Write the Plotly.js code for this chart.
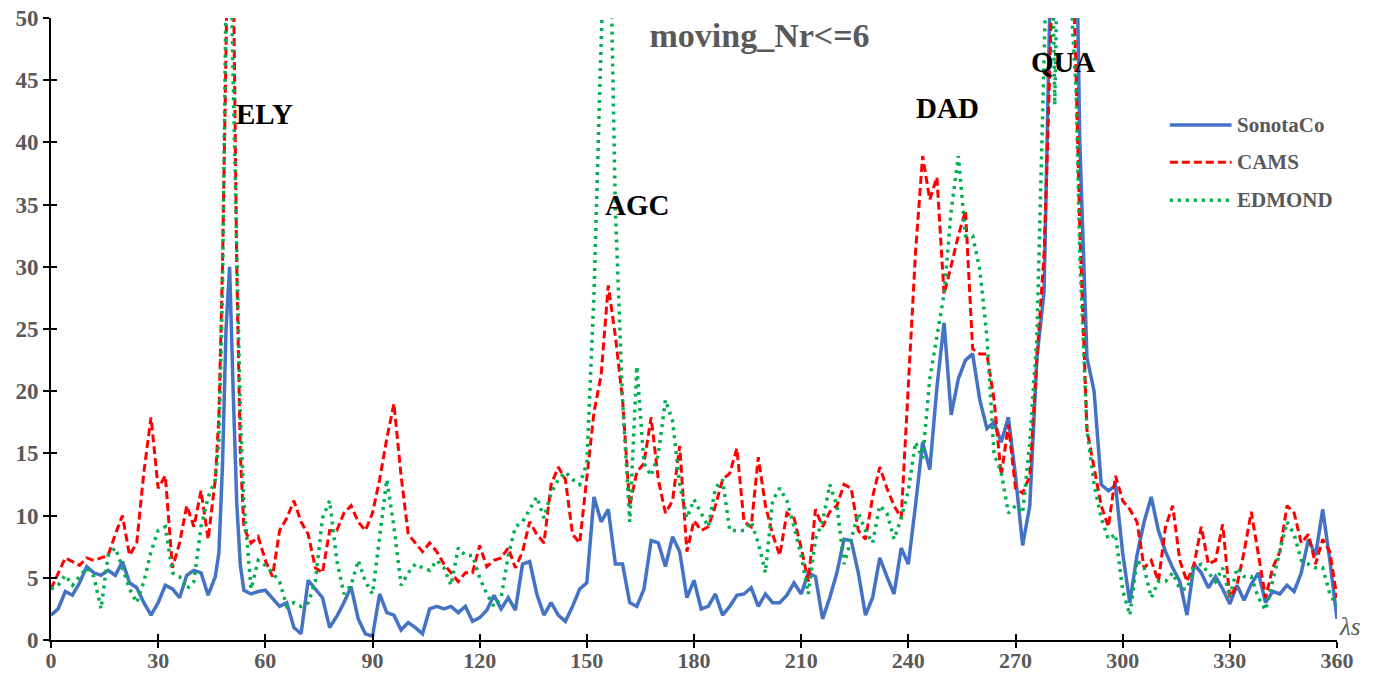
<!DOCTYPE html>
<html>
<head>
<meta charset="utf-8">
<script src="https://cdn.plot.ly/plotly-3.0.1.min.js"></script>
<style>html,body{margin:0;padding:0;background:#fff;}#chart{width:1375px;height:676px;}</style>
</head>
<body>
<div id="chart"></div>
<script>
// Solar longitude (deg)
const lambda = [0,2,4,6,8,10,12,14,16,18,20,22,24,26,28,30,32,34,36,38,40,42,44,46,
  47,48,49,50,51,52,53,54,
  56,58,60,62,64,66,68,70,72,74,76,78,80,82,84,86,88,90,92,94,96,98,100,102,104,106,108,110,112,114,
  116,118,120,122,124,126,128,130,132,134,136,138,140,142,144,146,148,150,152,154,156,158,160,162,164,166,168,170,172,174,
  176,178,180,182,184,186,188,190,192,194,196,198,200,202,204,206,208,210,212,214,216,218,220,222,224,226,228,230,232,234,
  236,238,240,242,244,246,248,250,252,254,256,258,260,262,264,266,268,270,272,274,276,278,
  279,280,281,282,284,286,287,
  288,290,292,294,296,298,300,302,304,306,308,310,312,314,316,318,320,322,324,326,328,330,332,334,336,338,340,342,344,346,348,350,352,354,356,358,360];

const sonotaco = [2.0,2.5,3.9,3.6,4.6,5.9,5.4,5.2,5.6,5.2,6.3,4.6,4.2,3.0,2.0,3.0,4.4,4.1,3.4,5.2,5.6,5.4,3.6,5.1,
  7,14,25,30,20,11,6,4,
  3.7,3.9,4.0,3.4,2.7,3.0,1.0,0.5,4.8,4.1,
  3.4,1.0,1.9,3.0,4.3,1.7,0.5,0.3,3.7,2.2,
  2.0,0.8,1.4,1.0,0.5,2.5,2.7,2.5,2.7,2.2,
  2.7,1.5,1.8,2.4,3.6,2.5,3.4,2.4,6.1,6.3,
  3.7,2.0,3.0,2.0,1.5,2.7,4.1,4.6,11.5,9.5,
  10.5,6.1,6.1,3.0,2.7,4.1,8.0,7.8,5.9,8.3,
  7.1,3.4,4.8,2.5,2.7,3.7,2.0,2.7,3.6,3.7,
  4.2,2.7,3.7,3.0,3.0,3.6,4.6,3.7,5.4,5.1,
  1.7,3.4,5.4,8.1,8.0,5.4,2.0,3.4,6.6,5.1,
  3.7,7.4,6.1,10.8,15.9,13.7,20.3,25.5,18.1,21.0,
  22.5,23.0,19.3,17.0,17.5,15.9,17.9,13.2,7.6,10.8,
  22.7,28,
  45,60,75,85,90,75,58,
  40,22.7,20,12.5,12.0,12.4,7.0,3.0,6.8,9.5,
  11.5,8.8,7.1,5.8,4.7,2.0,6.1,5.4,4.2,5.1,
  4.1,2.9,4.4,3.2,4.5,5.4,3.0,3.9,3.7,4.4,
  3.9,5.4,8.1,6.8,10.5,6.4,1.7];

const cams = [4.1,5.4,6.6,6.3,6.0,6.6,6.4,6.6,6.8,8.5,10.0,6.8,7.8,13.5,17.9,12.2,13.2,5.8,7.8,10.8,9.1,12.0,8.1,12.9,
  18,30,55,65,55,30,15,9,
  7.8,8.3,6.4,5.1,8.8,9.8,11.2,9.5,8.5,5.8,
  5.4,8.8,8.8,10.2,10.8,9.5,8.8,10.2,12.9,16.2,
  19.0,13.2,8.5,7.8,7.1,7.8,7.1,6.1,5.4,4.7,
  5.4,5.4,7.6,5.9,6.4,6.6,7.4,5.8,7.1,9.5,
  8.5,7.8,12.5,13.9,12.9,8.5,7.8,12.9,18.3,21.3,
  28.5,24.4,19.3,10.8,13.5,14.2,17.9,12.9,10.2,11.2,
  15.6,7.1,9.6,8.8,9.1,10.8,12.9,13.4,15.4,9.5,
  9.1,14.7,10.8,8.5,6.8,10.2,9.8,7.4,4.7,10.5,
  9.1,10.3,10.8,12.5,12.2,8.8,8.1,11.5,13.9,12.2,
  10.8,9.8,20.0,31.1,38.9,35.4,37.2,27.8,30.1,32.5,
  34.5,23.4,23.0,23.0,19.3,13.2,17.3,12.2,11.8,13.2,
  22.7,31,
  40,49,60,70,70,55,45,
  33,16.9,13.9,10.8,9.1,13.2,11.2,10.5,9.5,5.8,
  6.4,4.7,9.1,10.8,6.4,4.7,6.1,9.1,6.1,6.4,
  9.3,3.4,4.4,7.1,10.3,6.8,3.4,5.8,7.1,10.8,
  10.2,7.8,8.5,6.1,8.1,7.1,3.4];

const edmond = [4.1,4.4,5.2,4.4,5.1,5.8,5.1,2.5,6.8,7.4,5.8,4.1,3.0,4.7,7.1,8.8,9.1,5.4,5.1,4.1,4.7,9.1,11.5,12.9,
  16,28,52,60,45,30,18,11,
  4.1,6.4,6.0,5.4,4.7,2.7,3.0,2.7,3.0,4.7,
  9.8,11.2,6.4,3.7,4.4,6.4,4.7,3.7,8.1,12.9,
  9.1,4.4,5.4,6.1,5.8,5.6,6.4,5.8,4.4,7.4,
  6.8,6.8,5.0,3.7,2.7,3.4,6.8,9.1,9.5,10.5,
  11.5,9.8,11.8,12.9,13.5,12.9,12.5,14.2,27.8,48,
  65,34.5,19.3,9.5,22,14.2,13.2,14.9,19.3,17.6,
  12.5,9.8,11.3,10.2,9.1,12.2,12.9,8.8,8.8,8.8,
  9.5,7.8,5.4,11.2,12.2,11.2,9.1,6.8,3.7,8.1,
  9.5,12.5,10.8,6.1,8.1,10.2,8.8,7.8,10.8,10.2,
  8.1,9.8,12.0,15.9,14.6,21.0,24.4,27.8,34.5,38.9,
  32.5,32.5,29.8,24.4,14.9,13.5,10.2,10.8,10.2,15.9,
  24.4,47,
  58,62,43,60,70,49,44,
  31,16.9,12.5,9.8,8.1,8.5,4.0,2.0,6.4,5.8,
  3.4,4.7,4.7,5.4,4.1,4.1,5.8,6.1,5.4,4.7,
  5.8,3.4,5.8,5.1,5.1,3.4,2.4,4.7,7.1,9.5,
  8.5,6.4,6.1,5.8,5.8,3.7,2.7];

const seriesNames = ['SonotaCo','CAMS','EDMOND'];
const xTicks = [0,30,60,90,120,150,180,210,240,270,300,330,360];
const yTicks = [0,5,10,15,20,25,30,35,40,45,50];
const showerLabels = ['ELY','AGC','DAD','QUA'];
const showerX = [51.3,154.6,241.7,273.9];
const showerY = [42.3,35.0,42.8,46.5];

const colors = ['#4472C4','#FF0000','#00B050'];
const dashes = ['solid','8px,4px','3px,5px'];
const widths = [3.5,3,3.5];
const seriesData = [sonotaco, cams, edmond];

const serif = 'Liberation Serif';
const gray = '#595959';

const traces = seriesData.map((ys,i)=>({
  type:'scatter', mode:'lines', x:lambda, y:ys, name:seriesNames[i],
  line:{color:colors[i], width:widths[i], dash:dashes[i]}, showlegend:false
}));
traces.push({type:'scatter', mode:'lines', x:[], y:[], xaxis:'x2', yaxis:'y2', showlegend:false, hoverinfo:'skip'});

const axBase = {showgrid:false, zeroline:false, tickcolor:'#000', tickwidth:2, ticklen:6};
const tickFont = {family:serif, size:23, color:gray};

const annotations = showerLabels.map((t,i)=>({
  x:showerX[i], y:showerY[i], xref:'x', yref:'y', text:'<b>'+t+'</b>', showarrow:false,
  xanchor:'left', yanchor:'middle', font:{family:serif, size:29, color:'#000'}
}));
annotations.push({x:1.0, y:0.0225, xref:'paper', yref:'paper', text:'<i>λs</i>', showarrow:false,
  xanchor:'left', yanchor:'middle', font:{family:serif, size:25, color:gray}});

// Custom legend (long line samples)
const legY = [0.828, 0.768, 0.707];
const shapes = [];
seriesNames.forEach((n,i)=>{
  shapes.push({type:'line', xref:'paper', yref:'paper', x0:0.870, x1:0.918, y0:legY[i], y1:legY[i],
    line:{color:colors[i], width:widths[i], dash:dashes[i]}});
  annotations.push({x:0.921, y:legY[i], xref:'paper', yref:'paper', text:'<b>'+n+'</b>', showarrow:false,
    xanchor:'left', yanchor:'middle', font:{family:serif, size:21, color:gray}});
});

const layout = {
  width:1375, height:676,
  margin:{l:51, r:38, t:18, b:36},
  paper_bgcolor:'#fff', plot_bgcolor:'#fff',
  showlegend:false,
  font:{family:serif},
  title:{text:'<b>moving_Nr&lt;=6</b>', x:0.551, xref:'paper', xanchor:'center', y:0.948, yref:'container', yanchor:'middle',
    font:{family:serif, size:34, color:gray}},
  xaxis:Object.assign({}, axBase, {range:[0,360], tickvals:xTicks, ticktext:xTicks.map(v=>'<b>'+v+'</b>'), ticks:'outside',
    showline:true, linecolor:'#000', linewidth:2, tickfont:{family:serif, size:22, color:gray}, ticklabelstandoff:-6}),
  yaxis:Object.assign({}, axBase, {range:[0,50], tickvals:yTicks, ticktext:yTicks.map(v=>'<b>'+v+'</b>'), ticks:'outside',
    showline:true, linecolor:'#000', linewidth:2, tickfont:tickFont}),
  xaxis2:Object.assign({}, axBase, {overlaying:'x', anchor:'y2', side:'bottom', range:[0,360], tickvals:xTicks,
    ticks:'inside', showticklabels:false, showline:false}),
  yaxis2:Object.assign({}, axBase, {overlaying:'y', anchor:'x2', side:'left', range:[0,50], tickvals:yTicks,
    ticks:'inside', showticklabels:false, showline:false}),
  annotations:annotations,
  shapes:shapes
};

Plotly.newPlot('chart', traces, layout, {displayModeBar:false, staticPlot:true});
</script>
</body>
</html>
